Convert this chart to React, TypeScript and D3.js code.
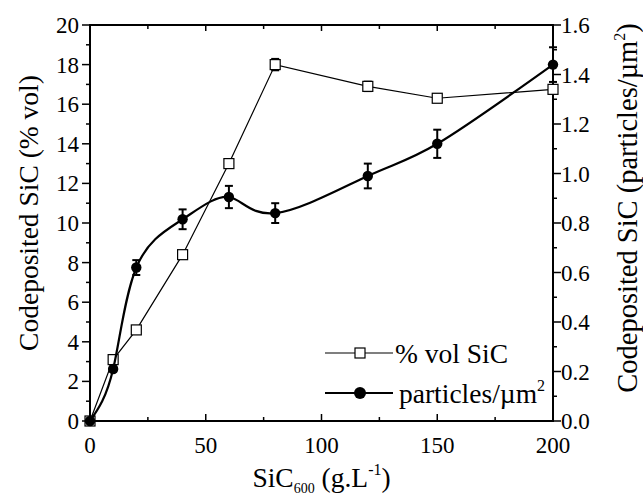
import React from "react";
import * as d3 from "d3";

// SiC concentration in the bath (g/L)
const concentration = [0, 10, 20, 40, 60, 80, 120, 150, 200];
// Codeposited SiC, volume percent (left axis)
const volPercent = [0, 3.1, 4.6, 8.4, 13.0, 18.0, 16.9, 16.3, 16.75];
const volError = [0, 0.2, 0.15, 0.15, 0.15, 0.3, 0.25, 0.2, 0.2];
// Codeposited SiC, particles per µm² (right axis)
const particles = [0, 0.21, 0.62, 0.815, 0.905, 0.84, 0.99, 1.12, 1.44];
const particlesError = [0, 0.01, 0.03, 0.04, 0.045, 0.04, 0.05, 0.057, 0.07];

const xTicks = [0, 50, 100, 150, 200];
const xMinorTicks = [25, 75, 125, 175];
const leftTicks = [0, 2, 4, 6, 8, 10, 12, 14, 16, 18, 20];
const leftMinorTicks = [1, 3, 5, 7, 9, 11, 13, 15, 17, 19];
const rightTicks = [0, 0.2, 0.4, 0.6, 0.8, 1.0, 1.2, 1.4, 1.6];
const rightMinorTicks = [0.1, 0.3, 0.5, 0.7, 0.9, 1.1, 1.3, 1.5];

const W = 643;
const H = 496;
const M = { left: 90, right: 553, top: 25, bottom: 421 };
const FONT = "Liberation Serif";
const tick = { fontFamily: FONT, fontSize: 23 };
const title = { fontFamily: FONT, fontSize: 27.5 };
const rightTitle = { fontFamily: FONT, fontSize: 28.5 };

export default function App() {
  const x = d3.scaleLinear().domain([0, 200]).range([M.left, M.right]);
  const yL = d3.scaleLinear().domain([0, 20]).range([M.bottom, M.top]);
  const yR = d3.scaleLinear().domain([0, 1.6]).range([M.bottom, M.top]);

  const volLine = d3
    .line<number>()
    .x((_, i) => x(concentration[i]))
    .y((d) => yL(d))
    .curve(d3.curveLinear);
  const partLine = d3
    .line<number>()
    .x((_, i) => x(concentration[i]))
    .y((d) => yR(d))
    .curve(d3.curveNatural);

  const cap = 4;

  return (
    <svg width={W} height={H} style={{ position: "absolute", left: 0, top: 0, background: "#fff" }}>
      <rect x={0} y={0} width={W} height={H} fill="#fff" />

      {/* frame */}
      <rect
        x={M.left}
        y={M.top}
        width={M.right - M.left}
        height={M.bottom - M.top}
        fill="none"
        stroke="#000"
        strokeWidth={2}
      />

      {/* bottom axis: ticks inward, mirrored on top */}
      {xTicks.map((t) => (
        <g key={"xb" + t}>
          <line x1={x(t)} x2={x(t)} y1={M.bottom} y2={M.bottom - 7} stroke="#000" strokeWidth={1.5} />
          <line x1={x(t)} x2={x(t)} y1={M.top} y2={M.top + 6} stroke="#000" strokeWidth={1.5} />
          <text x={x(t)} y={M.bottom + 32} textAnchor="middle" style={tick}>
            {t}
          </text>
        </g>
      ))}
      {xMinorTicks.map((t) => (
        <g key={"xm" + t}>
          <line x1={x(t)} x2={x(t)} y1={M.bottom} y2={M.bottom - 4} stroke="#000" strokeWidth={1.5} />
          <line x1={x(t)} x2={x(t)} y1={M.top} y2={M.top + 4} stroke="#000" strokeWidth={1.5} />
        </g>
      ))}

      {/* left axis: ticks outward */}
      {leftTicks.map((t) => (
        <g key={"yl" + t}>
          <line x1={M.left} x2={M.left - 8} y1={yL(t)} y2={yL(t)} stroke="#000" strokeWidth={1.5} />
          <text x={M.left - 11} y={yL(t) + 8} textAnchor="end" style={tick}>
            {t}
          </text>
        </g>
      ))}
      {leftMinorTicks.map((t) => (
        <line key={"ylm" + t} x1={M.left} x2={M.left - 4} y1={yL(t)} y2={yL(t)} stroke="#000" strokeWidth={1.5} />
      ))}

      {/* right axis: ticks outward */}
      {rightTicks.map((t) => (
        <g key={"yr" + t}>
          <line x1={M.right} x2={M.right + 8} y1={yR(t)} y2={yR(t)} stroke="#000" strokeWidth={1.5} />
          <text x={M.right + 8} y={yR(t) + 8} textAnchor="start" style={tick}>
            {t.toFixed(1)}
          </text>
        </g>
      ))}
      {rightMinorTicks.map((t) => (
        <line key={"yrm" + t} x1={M.right} x2={M.right + 4} y1={yR(t)} y2={yR(t)} stroke="#000" strokeWidth={1.5} />
      ))}

      {/* axis titles */}
      <text transform="translate(38, 213) rotate(-90)" textAnchor="middle" style={title}>
        Codeposited SiC (% vol)
      </text>
      <text transform="translate(637, 208) rotate(-90)" textAnchor="middle" style={rightTitle}>
        Codeposited SiC (particles/µm
        <tspan fontSize={16} dy={-12}>2</tspan>
        <tspan dy={12}>)</tspan>
      </text>
      <text x={(M.left + M.right) / 2} y={487} textAnchor="middle" style={title}>
        SiC
        <tspan fontSize={14} dy={6}>600</tspan>
        <tspan dy={-6}> (g.L</tspan>
        <tspan fontSize={16} dy={-12}>-1</tspan>
        <tspan dy={12}>)</tspan>
      </text>

      {/* % vol series: straight segments, open squares */}
      <path d={volLine(volPercent) ?? ""} fill="none" stroke="#000" strokeWidth={1.2} />
      {volPercent.map((v, i) => {
        const cx = x(concentration[i]);
        const e = volError[i];
        return (
          <g key={"vb" + i}>
            {e > 0 && (
              <>
                <line x1={cx} x2={cx} y1={yL(v - e)} y2={yL(v + e)} stroke="#000" strokeWidth={1.5} />
                <line x1={cx - cap} x2={cx + cap} y1={yL(v + e)} y2={yL(v + e)} stroke="#000" strokeWidth={1.5} />
                <line x1={cx - cap} x2={cx + cap} y1={yL(v - e)} y2={yL(v - e)} stroke="#000" strokeWidth={1.5} />
              </>
            )}
            <rect x={cx - 5} y={yL(v) - 5} width={10} height={10} fill="#fff" stroke="#000" strokeWidth={1.2} />
          </g>
        );
      })}

      {/* particles series: smooth spline, filled circles */}
      <path d={partLine(particles) ?? ""} fill="none" stroke="#000" strokeWidth={2.2} />
      {particles.map((v, i) => {
        const cx = x(concentration[i]);
        const e = particlesError[i];
        return (
          <g key={"pb" + i}>
            {e > 0 && (
              <>
                <line x1={cx} x2={cx} y1={yR(v - e)} y2={yR(v + e)} stroke="#000" strokeWidth={2} />
                <line x1={cx - cap} x2={cx + cap} y1={yR(v + e)} y2={yR(v + e)} stroke="#000" strokeWidth={2} />
                <line x1={cx - cap} x2={cx + cap} y1={yR(v - e)} y2={yR(v - e)} stroke="#000" strokeWidth={2} />
              </>
            )}
            <circle cx={cx} cy={yR(v)} r={5.2} fill="#000" />
          </g>
        );
      })}

      {/* legend */}
      <g>
        <line x1={325} x2={393} y1={353} y2={353} stroke="#000" strokeWidth={1.2} />
        <rect x={355} y={348} width={10} height={10} fill="#fff" stroke="#000" strokeWidth={1.2} />
        <text x={395} y={363} style={title}>% vol SiC</text>
        <line x1={325} x2={393} y1={393} y2={393} stroke="#000" strokeWidth={2.2} />
        <circle cx={360} cy={393} r={6} fill="#000" />
        <text x={399} y={403} style={title}>
          particles/µm
          <tspan fontSize={16} dy={-12}>2</tspan>
        </text>
      </g>
    </svg>
  );
}
